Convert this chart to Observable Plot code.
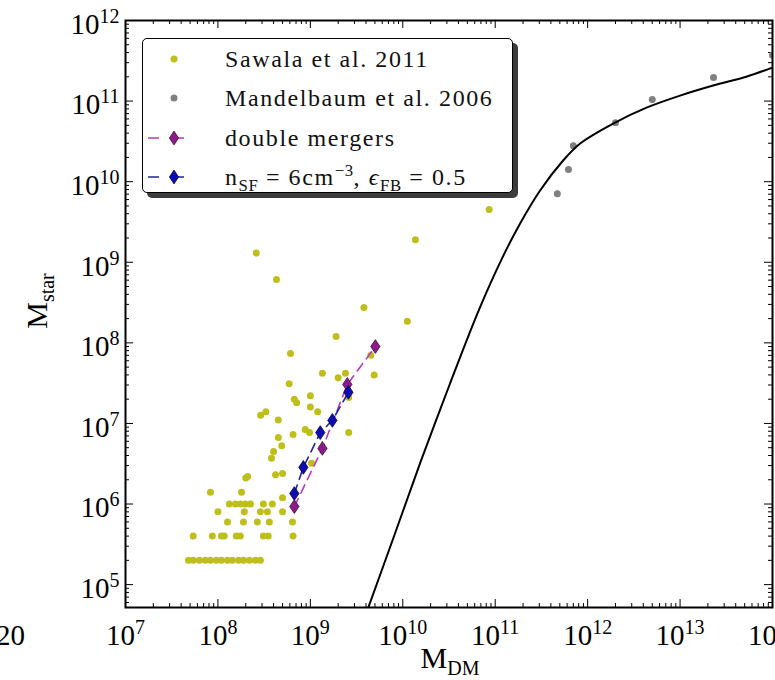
<!DOCTYPE html>
<html>
<head>
<meta charset="utf-8">
<script src="https://cdn.jsdelivr.net/npm/d3@7"></script>
<script src="https://cdn.jsdelivr.net/npm/@observablehq/plot@0.6"></script>
<style>
  html, body { margin: 0; padding: 0; background: #fff; overflow: hidden; }
  #wrap { position: relative; width: 775px; height: 680px; font-family: "Liberation Serif", "DejaVu Serif", serif; }
  #legend {
    position: absolute; left: 142px; top: 38px; width: 371px; height: 155px;
    box-sizing: border-box; border: 1.6px solid #000; border-radius: 5px;
    background: #fff; box-shadow: 5px 5px 0 #3c3c3c;
  }
  #legend .row { position: absolute; left: 0; height: 40px; display: flex; align-items: center; width: 100%; }
  #legend .row svg { position: absolute; left: 4px; top: 0; }
  #legend .row span { position: absolute; left: 82px; font-size: 24px; letter-spacing: 1.6px; white-space: nowrap; color: #111; }
  #legend sub { font-size: 0.7em; vertical-align: -0.35em; line-height: 0; letter-spacing: 0.5px; }
  #legend sup { font-size: 0.7em; vertical-align: 0.55em; line-height: 0; letter-spacing: 0.5px; }
</style>
</head>
<body>
<div id="wrap"></div>
<script>
// Sawala et al. 2011 simulated dwarfs: dark-matter mass and stellar mass
const sawalaDM = [
  4.8e7, 5.4e7, 6.3e7, 7.3e7, 8.3e7, 9.6e7, 1.09e8, 1.27e8, 1.43e8, 1.67e8, 1.89e8, 2.19e8, 2.54e8, 2.88e8,
  5.4e7, 8.7e7, 1.09e8, 1.17e8, 1.58e8, 1.75e8, 3.1e8, 3.5e8, 6.5e8,
  1.27e8, 1.89e8, 2.67e8, 3.6e8, 6.4e8,
  1.0e8, 1.93e8, 2.88e8, 3.43e8, 5.0e8,
  1.33e8, 1.55e8, 1.75e8, 1.98e8, 2.25e8, 3.1e8, 3.88e8,
  8.3e7, 1.8e8, 5.0e8, 2.0e8, 2.1e8, 4.2e8, 5.0e8, 3.8e8, 4.0e8, 4.9e8,
  4.5e8, 6.5e8, 4.5e8, 2.9e8, 3.3e8, 8.8e8, 9.8e8, 1.0e9, 1.2e9, 6.7e8,
  7.1e8, 1.0e9, 5.9e8, 1.35e9, 2.0e9, 2.4e9, 2.6e9, 4.9e9, 2.6e9, 1.03e9,
  1.9e9, 6.1e8, 4.5e9, 3.8e9, 2.6e8, 4.3e8, 8.6e10, 1.37e10, 1.12e10
];
const sawalaStar = [
  2e5, 2e5, 2e5, 2e5, 2e5, 2e5, 2e5, 2e5, 2e5, 2e5, 2e5, 2e5, 2e5, 2e5,
  4e5, 4e5, 4e5, 4e5, 4e5, 4e5, 4e5, 4e5, 4e5,
  6e5, 6e5, 6e5, 6e5, 6e5,
  8e5, 8e5, 8e5, 8e5, 8e5,
  1e6, 1e6, 1e6, 1e6, 1e6, 1e6, 1e6,
  1.4e6, 1.4e6, 1.2e6, 2.1e6, 2.2e6, 2.3e6, 2.4e6, 3.7e6, 4.5e6, 5.3e6,
  6.7e6, 7.3e6, 1.1e7, 1.26e7, 1.4e7, 8.4e6, 7.7e6, 1.6e7, 1.4e7, 2.0e7,
  1.8e7, 2.2e7, 3.1e7, 4.2e7, 3.7e7, 4.2e7, 7.7e6, 4.0e7, 2.1e7, 3.2e6,
  1.2e8, 7.4e7, 7.0e7, 2.75e8, 1.3e9, 6.1e8, 4.5e9, 1.9e9, 1.85e8
];

// Mandelbaum et al. 2006 weak-lensing points
const mandelDM   = [4.7e11, 6.2e11, 7.0e11, 2.0e12, 5.0e12, 2.3e13, 1.0e14];
const mandelStar = [7.1e9, 1.42e10, 2.8e10, 5.4e10, 1.05e11, 1.96e11, 3.7e11];

// Abundance-matching relation (solid black curve)
const relDM   = [4.24e9, 8.09e9, 1.55e10, 3.2e10, 6.6e10, 1.2e11, 1.86e11, 3.06e11, 5.43e11, 8.3e11, 1.89e12, 4.40e12, 1.0e13, 2.28e13, 5.30e13, 1.0e14];
const relStar = [5.2e4, 4.07e5, 3.28e6, 3.0e7, 2.5e8, 1.15e9, 3.03e9, 7.78e9, 1.83e10, 2.98e10, 5.27e10, 8.34e10, 1.17e11, 1.56e11, 2.02e11, 2.61e11];

// Double-merger runs
const mergerDM   = [6.71e8, 1.35e9, 2.51e9, 5.05e9];
const mergerStar = [9.3e5, 4.9e6, 3.05e7, 9.0e7];

// n_SF = 6 cm^-3, eps_FB = 0.5 runs
const sfDM   = [6.71e8, 8.4e8, 1.28e9, 1.73e9, 2.58e9];
const sfStar = [1.35e6, 2.85e6, 7.7e6, 1.09e7, 2.43e7];

// Axis tick positions
const xMajor = [1e7, 1e8, 1e9, 1e10, 1e11, 1e12, 1e13, 1e14];
const yMajor = [1e5, 1e6, 1e7, 1e8, 1e9, 1e10, 1e11, 1e12];

const W = 775, H = 680, mT = 20, mB = 73, mL = 125, mR = 3;
const plotH = H - mT - mB, plotW = W - mL - mR;
const xDomain = [1e7, 1e14], yDomain = [5.2e4, 1e12];

const minorsOf = (lo, hi, domain) => {
  const out = [];
  for (let k = lo; k <= hi; k++) for (let m = 2; m <= 9; m++) {
    const v = m * Math.pow(10, k);
    if (v > domain[0] && v < domain[1]) out.push(v);
  }
  return out;
};
const xMinor = minorsOf(7, 13, xDomain);
const yMinor = minorsOf(4, 11, yDomain);

const thinDiamond = {
  draw(ctx, size) {
    const r = Math.sqrt(size / Math.PI);
    ctx.moveTo(0, -1.4 * r);
    ctx.lineTo(0.95 * r, 0);
    ctx.lineTo(0, 1.4 * r);
    ctx.lineTo(-0.95 * r, 0);
    ctx.closePath();
  }
};

const expFormat = d => "10^" + Math.round(Math.log10(d));
const MAJ = 8, MIN = 4;

const chart = Plot.plot({
  width: W, height: H,
  marginTop: mT, marginBottom: mB, marginLeft: mL, marginRight: mR,
  style: { fontFamily: "'Liberation Serif', 'DejaVu Serif', serif", background: "#fff", color: "#000" },
  x: { type: "log", domain: xDomain },
  y: { type: "log", domain: yDomain },
  marks: [
    // tick labels
    Plot.axisX(xMajor, { anchor: "bottom", tickSize: 0, tickPadding: 17, tickFormat: expFormat, label: null, fontSize: 29 }),
    Plot.axisY(yMajor, { anchor: "left", tickSize: 0, tickPadding: 6, tickFormat: expFormat, label: null, fontSize: 29, dy: 4 }),
    // inward ticks on all four sides
    Plot.ruleX(xMajor, { x: d => d, insetTop: plotH - MAJ, stroke: "#000", strokeWidth: 1 }),
    Plot.ruleX(xMinor, { x: d => d, insetTop: plotH - MIN, stroke: "#000", strokeWidth: 1 }),
    Plot.ruleX(xMajor, { x: d => d, insetBottom: plotH - MAJ, stroke: "#000", strokeWidth: 1 }),
    Plot.ruleX(xMinor, { x: d => d, insetBottom: plotH - MIN, stroke: "#000", strokeWidth: 1 }),
    Plot.ruleY(yMajor, { y: d => d, insetRight: plotW - MAJ, stroke: "#000", strokeWidth: 1 }),
    Plot.ruleY(yMinor, { y: d => d, insetRight: plotW - MIN, stroke: "#000", strokeWidth: 1 }),
    Plot.ruleY(yMajor, { y: d => d, insetLeft: plotW - MAJ, stroke: "#000", strokeWidth: 1 }),
    Plot.ruleY(yMinor, { y: d => d, insetLeft: plotW - MIN, stroke: "#000", strokeWidth: 1 }),
    // data
    Plot.dot(sawalaDM, { x: d => d, y: sawalaStar, r: 3.5, fill: "#bfbf1c", clip: true }),
    Plot.dot(mandelDM, { x: d => d, y: mandelStar, r: 3.5, fill: "#808080", clip: true }),
    Plot.line(relDM, { x: d => d, y: relStar, curve: "catmull-rom", stroke: "#000", strokeWidth: 2, clip: true }),
    Plot.line(mergerDM, { x: d => d, y: mergerStar, stroke: "#b83cb8", strokeWidth: 1.6, strokeDasharray: "9,6", clip: true }),
    Plot.dot(mergerDM, { x: d => d, y: mergerStar, symbol: thinDiamond, r: 4.9, fill: "#8c1c8c", stroke: "#3a0a3a", strokeWidth: 0.8, clip: true }),
    Plot.line(sfDM, { x: d => d, y: sfStar, stroke: "#2222a0", strokeWidth: 1.6, strokeDasharray: "9,6", clip: true }),
    Plot.dot(sfDM, { x: d => d, y: sfStar, symbol: thinDiamond, r: 4.9, fill: "#0c0cb0", stroke: "#05054a", strokeWidth: 0.8, clip: true }),
    Plot.frame({ stroke: "#000", strokeWidth: 2 })
  ]
});

// Render "10^k" labels with a raised exponent
chart.querySelectorAll("text").forEach(t => {
  const m = /^10\^(-?\d+)$/.exec(t.textContent);
  if (!m) return;
  t.textContent = "10";
  const sup = document.createElementNS("http://www.w3.org/2000/svg", "tspan");
  sup.setAttribute("font-size", "20");
  sup.setAttribute("dy", "-11");
  sup.textContent = m[1];
  t.appendChild(sup);
});

// Axis titles with subscripts
const svg = d3.select(chart);
const xl = svg.append("text")
  .attr("x", 450).attr("y", 668).attr("text-anchor", "middle")
  .attr("font-size", 30).attr("fill", "#000")
  .text("M");
xl.append("tspan").attr("font-size", 20).attr("dy", 7).text("DM");

const yl = svg.append("text")
  .attr("transform", "translate(47,301) rotate(-90)").attr("text-anchor", "middle")
  .attr("font-size", 30).attr("fill", "#000")
  .text("M");
yl.append("tspan").attr("font-size", 20).attr("dy", 7).text("star");

svg.append("text")
  .attr("x", 25).attr("y", 645).attr("text-anchor", "end")
  .attr("font-size", 29).attr("fill", "#000")
  .text("20");

const wrap = document.getElementById("wrap");
wrap.appendChild(chart);

// Legend box
const legend = document.createElement("div");
legend.id = "legend";
const lineSwatch = (lineColor, fill, edge) =>
  `<svg width="56" height="40"><line x1="1" y1="20" x2="47" y2="20" stroke="${lineColor}" stroke-width="1.6" stroke-dasharray="11,14"/>` +
  `<path d="M27,13.1L31.6,20L27,26.9L22.4,20Z" fill="${fill}" stroke="${edge}" stroke-width="0.8"/></svg>`;
const dotSwatch = color => `<svg width="56" height="40"><circle cx="27" cy="20" r="3.5" fill="${color}"/></svg>`;
const rows = [
  [20, dotSwatch("#bfbf1c"), "Sawala et al. 2011"],
  [59, dotSwatch("#808080"), "Mandelbaum et al. 2006"],
  [99, lineSwatch("#b83cb8", "#8c1c8c", "#3a0a3a"), "double mergers"],
  [138, lineSwatch("#2222a0", "#0c0cb0", "#05054a"), "n<sub>SF</sub> = 6cm<sup>\u22123</sup>, <i>\u03f5</i><sub>FB</sub> = 0.5"]
];
rows.forEach(([cy, sw, label]) => {
  const r = document.createElement("div");
  r.className = "row";
  r.style.top = (cy - 20) + "px";
  r.innerHTML = sw + `<span>${label}</span>`;
  legend.appendChild(r);
});
wrap.appendChild(legend);
</script>
</body>
</html>
